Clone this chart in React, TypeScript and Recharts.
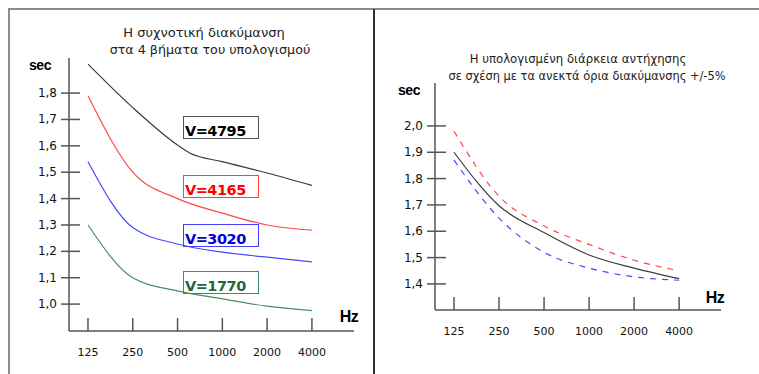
import { LineChart, Line, XAxis, YAxis } from 'recharts';

// frequency bands, placed at equal steps on the x axis
const freqLabels = ['125', '250', '500', '1000', '2000', '4000'];
const freqPos = [0, 1, 2, 3, 4, 5];

const leftYTicks = [1.0, 1.1, 1.2, 1.3, 1.4, 1.5, 1.6, 1.7, 1.8];
const rightYTicks = [1.4, 1.5, 1.6, 1.7, 1.8, 1.9, 2.0];

// left chart: reverberation time for the 4 volumes
const v4795X = [0, 1, 2, 2.27, 3, 4, 5];
const v4795 = [1.91, 1.745, 1.603, 1.573, 1.54, 1.497, 1.45];
const v4165 = [1.79, 1.5, 1.4, 1.345, 1.3, 1.28];
const v3020 = [1.54, 1.29, 1.228, 1.197, 1.178, 1.16];
const v1770 = [1.3, 1.1, 1.05, 1.02, 0.992, 0.975];

// right chart: computed value with +/-5% limits
const computed = [1.9, 1.697, 1.595, 1.51, 1.46, 1.42];
const upperLimit = [1.98, 1.733, 1.62, 1.55, 1.49, 1.45];
const lowerLimit = [1.87, 1.65, 1.52, 1.46, 1.427, 1.414];

const pts = (xs: number[], ys: number[]) => ys.map((y, i) => ({ x: xs[i], y }));

const FONT = '"DejaVu Sans", Verdana, sans-serif';
const fmt = (v: number) => v.toFixed(1).replace('.', ',');

function XTick(props: any) {
  const { x, y, payload } = props;
  return (
    <g>
      <line x1={x} x2={x} y1={y - 13} y2={y} stroke="#555" strokeWidth={1.5} />
      <text x={x} y={y + 25} textAnchor="middle" fontSize={11} fill="#111" fontFamily={FONT}>
        {freqLabels[payload.value]}
      </text>
    </g>
  );
}

function YTick(props: any) {
  const { x, y, payload } = props;
  return (
    <g>
      <line x1={x - 8} x2={x + 11} y1={y} y2={y} stroke="#555" strokeWidth={1.5} />
      <text x={x - 12} y={y + 4} textAnchor="end" fontSize={12} fill="#111" fontFamily={FONT}>
        {fmt(payload.value)}
      </text>
    </g>
  );
}

const abs = (s: React.CSSProperties): React.CSSProperties => ({ position: 'absolute', ...s });

function Title({ cx, cy, text, size }: { cx: number; cy: number; text: string; size: number }) {
  return (
    <div style={abs({ left: cx - 200, top: cy - 8, width: 400, textAlign: 'center', fontSize: size, lineHeight: '16px', fontFamily: FONT, color: '#222', whiteSpace: 'nowrap' })}>
      {text}
    </div>
  );
}

function Unit({ cx, cy, text, size }: { cx: number; cy: number; text: string; size: number }) {
  return (
    <div style={abs({ left: cx, top: cy, transform: 'translate(-50%,-50%)', fontSize: size, fontWeight: 'bold', fontFamily: '"Liberation Sans", Arial, sans-serif', color: '#000', letterSpacing: -0.5, whiteSpace: 'nowrap' })}>
      {text}
    </div>
  );
}

function VBox({ top, text, border, color }: { top: number; text: string; border: string; color: string }) {
  return (
    <div style={abs({ left: 183, top, width: 76, height: 23, boxSizing: 'border-box', border: `1px solid ${border}`, fontSize: 14.5, fontWeight: 'bold', fontFamily: FONT, color, lineHeight: '28px', letterSpacing: -0.5, paddingLeft: 1, overflow: 'visible', whiteSpace: 'nowrap' })}>
      {text}
    </div>
  );
}

export default function App() {
  return (
    <div style={abs({ left: 0, top: 0, width: 759, height: 374, background: '#fff', overflow: 'hidden' })}>
      {/* frame */}
      <div style={abs({ left: 8, top: 8, width: 751, height: 2, background: '#8c8c8c' })} />
      <div style={abs({ left: 8, top: 8, width: 2, height: 366, background: '#8c8c8c' })} />
      <div style={abs({ left: 373, top: 9, width: 2, height: 365, background: '#333' })} />

      {/* left chart */}
      <div style={abs({ left: 0, top: 0 })}>
        <LineChart width={376} height={374} margin={{ top: 58, right: 22, bottom: 13, left: 39 }}>
          <XAxis type="number" dataKey="x" domain={[-0.424, 5.94]} ticks={freqPos} interval={0}
            allowDataOverflow height={30} tickSize={0} tickMargin={0} tick={<XTick />}
            axisLine={{ stroke: '#555', strokeWidth: 1.5 }} />
          <YAxis type="number" dataKey="y" domain={[0.898, 1.933]} ticks={leftYTicks} interval={0}
            allowDataOverflow width={30} tickSize={0} tickMargin={0} tick={<YTick />}
            axisLine={{ stroke: '#555', strokeWidth: 1.5 }} />
          <Line data={pts(v4795X, v4795)} dataKey="y" type="monotone" stroke="#3c3c3c" strokeWidth={1.2} dot={false} isAnimationActive={false} />
          <Line data={pts(freqPos, v4165)} dataKey="y" type="monotone" stroke="#ff4848" strokeWidth={1.2} dot={false} isAnimationActive={false} />
          <Line data={pts(freqPos, v3020)} dataKey="y" type="monotone" stroke="#4848ff" strokeWidth={1.2} dot={false} isAnimationActive={false} />
          <Line data={pts(freqPos, v1770)} dataKey="y" type="monotone" stroke="#4a8c66" strokeWidth={1.2} dot={false} isAnimationActive={false} />
        </LineChart>
      </div>
      <Title cx={204} cy={33} size={13} text="Η συχνοτική διακύμανση" />
      <Title cx={210} cy={50} size={12.7} text="στα 4 βήματα του υπολογισμού" />
      <Unit cx={40} cy={65} size={14} text="sec" />
      <Unit cx={349} cy={317} size={16} text="Hz" />
      <VBox top={116} text="V=4795" border="#555" color="#000" />
      <VBox top={175} text="V=4165" border="#ff4040" color="#ff0000" />
      <VBox top={224} text="V=3020" border="#4040ff" color="#0000e0" />
      <VBox top={271} text="V=1770" border="#3f8a5e" color="#1f6b3e" />

      {/* right chart */}
      <div style={abs({ left: 376, top: 0 })}>
        <LineChart width={383} height={374} margin={{ top: 83, right: 38, bottom: 34, left: 29 }}>
          <XAxis type="number" dataKey="x" domain={[-0.422, 5.93]} ticks={freqPos} interval={0}
            allowDataOverflow height={30} tickSize={0} tickMargin={0} tick={<XTick />}
            axisLine={{ stroke: '#555', strokeWidth: 1.5 }} />
          <YAxis type="number" dataKey="y" domain={[1.301, 2.163]} ticks={rightYTicks} interval={0}
            allowDataOverflow width={30} tickSize={0} tickMargin={0} tick={<YTick />}
            axisLine={{ stroke: '#555', strokeWidth: 1.5 }} />
          <Line data={pts(freqPos, upperLimit)} dataKey="y" type="monotone" stroke="#ff4848" strokeWidth={1.2} strokeDasharray="6 6" dot={false} isAnimationActive={false} />
          <Line data={pts(freqPos, lowerLimit)} dataKey="y" type="monotone" stroke="#4848ff" strokeWidth={1.2} strokeDasharray="6 6" dot={false} isAnimationActive={false} />
          <Line data={pts(freqPos, computed)} dataKey="y" type="monotone" stroke="#3c3c3c" strokeWidth={1.2} dot={false} isAnimationActive={false} />
        </LineChart>
      </div>
      <Title cx={578} cy={59} size={11.7} text="Η υπολογισμένη διάρκεια αντήχησης" />
      <Title cx={587} cy={76} size={11.4} text="σε σχέση με τα ανεκτά όρια διακύμανσης +/-5%" />
      <Unit cx={409} cy={90} size={14} text="sec" />
      <Unit cx={715} cy={298} size={16} text="Hz" />
    </div>
  );
}
